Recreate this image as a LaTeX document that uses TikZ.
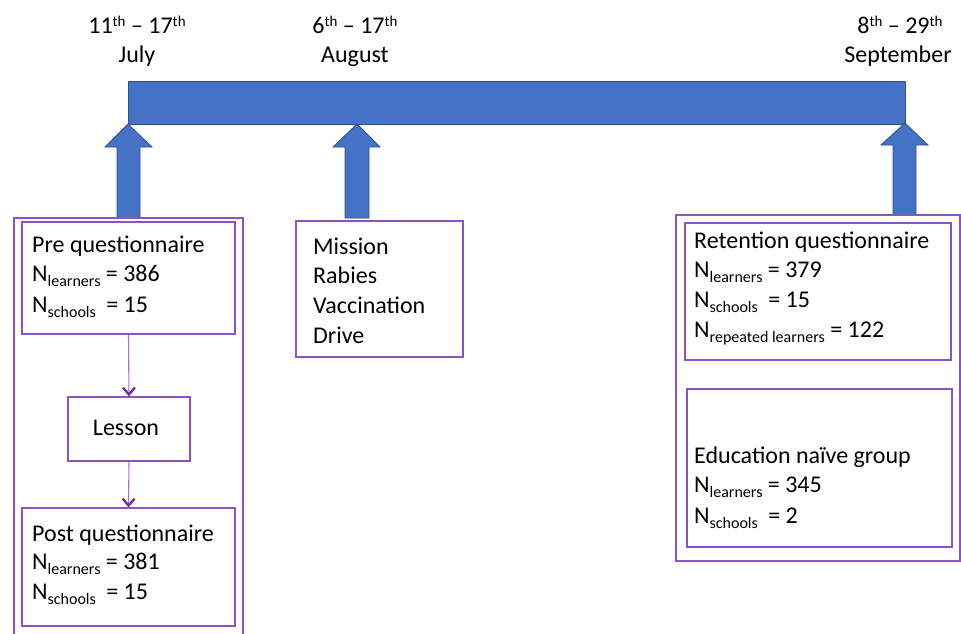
\documentclass[tikz,border=0pt]{standalone}
\usepackage{fontspec}
\setmainfont{Carlito}
\usetikzlibrary{arrows.meta}
\definecolor{barblue}{HTML}{4472C4}
\definecolor{bardark}{HTML}{2F528F}
\definecolor{boxpurple}{RGB}{140,80,200}
\definecolor{linepurple}{RGB}{165,110,215}
\definecolor{tippurple}{RGB}{112,48,160}
\newcommand\mysub[1]{\raisebox{-5pt}{\fontsize{16}{16}\selectfont #1}}
\newcommand\mysup[1]{\raisebox{7pt}{\fontsize{15}{15}\selectfont #1}}
\tikzset{
  frame/.style={draw=boxpurple, line width=1.2pt},
  txt/.style={anchor=base west, inner sep=0pt, font=\fontsize{24}{29}\selectfont},
  ctxt/.style={anchor=base, inner sep=0pt, font=\fontsize{24}{29}\selectfont},
  blockarrow/.style={fill=barblue, draw=bardark, line width=0.8pt},
  conn/.style={draw=linepurple, line width=1.1pt, -{Straight Barb[length=7pt,width=12pt,line width=2.4pt,color=tippurple]}}
}
\begin{document}
\begin{tikzpicture}[x=1pt,y=-1pt]
\clip (0,0) rectangle (961,634);
\fill[white] (0,0) rectangle (961,634);
% timeline bar
\draw[blockarrow] (128,81) rectangle (905,124);
\coordinate (barL) at (128,124);
\coordinate (barM) at (357,124);
\coordinate (barR) at (905,123);
% block arrows
\draw[blockarrow] (barL) -- (152,147) -- (140,147) -- (140,218) -- (117,218) -- (117,147) -- (105,147) -- cycle;
\draw[blockarrow] (barM) -- (380,147) -- (369,147) -- (369,218) -- (345,218) -- (345,147) -- (333,147) -- cycle;
\draw[blockarrow] (barR) -- (928,145) -- (916,145) -- (916,215) -- (893,215) -- (893,145) -- (881,145) -- cycle;
% dates
\node[ctxt] (d1) at (137,34) {11\mysup{th} – 17\mysup{th}};
\node[ctxt] (m1) at (137,63) {July};
\node[ctxt] (d2) at (355,34) {6\mysup{th} – 17\mysup{th}};
\node[ctxt] (m2) at (355,63) {August};
\node[ctxt] (d3) at (900,34) {8\mysup{th} – 29\mysup{th}};
\node[ctxt] (m3) at (898,63) {September};
% left group
\draw[frame] (14,218) rectangle (243,650);
\node[frame, minimum width=213pt, minimum height=112pt, inner sep=0pt] (pre) at (128.5,278) {};
\node[frame, minimum width=122pt, minimum height=64pt, inner sep=0pt] (lesson) at (129,429) {};
\node[frame, minimum width=213pt, minimum height=118pt, inner sep=0pt] (post) at (128.5,567) {};
\draw[conn] (pre.south) -- (lesson.north);
\draw[conn] (lesson.south) -- (post.north);
\node[txt] (pre1) at (32,252) {Pre questionnaire};
\node[txt] (pre2) at (32,281) {N\mysub{learners} = 386};
\node[txt] (pre3) at (32,312) {N\mysub{schools}\hspace{5pt} = 15};
\node[ctxt] (les1) at (126,435) {Lesson};
\node[txt] (post1) at (32,541) {Post questionnaire};
\node[txt] (post2) at (32,569) {N\mysub{learners} = 381};
\node[txt] (post3) at (32,599) {N\mysub{schools}\hspace{5pt} = 15};
% mission
\node[frame, minimum width=167pt, minimum height=136pt, inner sep=0pt] (mission) at (379.5,289) {};
\node[txt] (mi1) at (313,254) {Mission};
\node[txt] (mi2) at (313,283) {Rabies};
\node[txt] (mi3) at (313,313) {Vaccination};
\node[txt] (mi4) at (313,343) {Drive};
% right group
\draw[frame] (676,215) rectangle (960,561);
\node[frame, minimum width=266pt, minimum height=137pt, inner sep=0pt] (ret) at (818,291.5) {};
\node[frame, minimum width=265pt, minimum height=158pt, inner sep=0pt] (edu) at (819.5,468) {};
\node[txt] (r1) at (694,248) {Retention questionnaire};
\node[txt] (r2) at (694,277) {N\mysub{learners} = 379};
\node[txt] (r3) at (694,307) {N\mysub{schools}\hspace{5pt} = 15};
\node[txt] (r4) at (694,337) {N\mysub{repeated learners} = 122};
\node[txt] (e1) at (694,463) {Education naïve group};
\node[txt] (e2) at (694,492) {N\mysub{learners} = 345};
\node[txt] (e3) at (694,523) {N\mysub{schools}\hspace{5pt} = 2};
\end{tikzpicture}
\end{document}
